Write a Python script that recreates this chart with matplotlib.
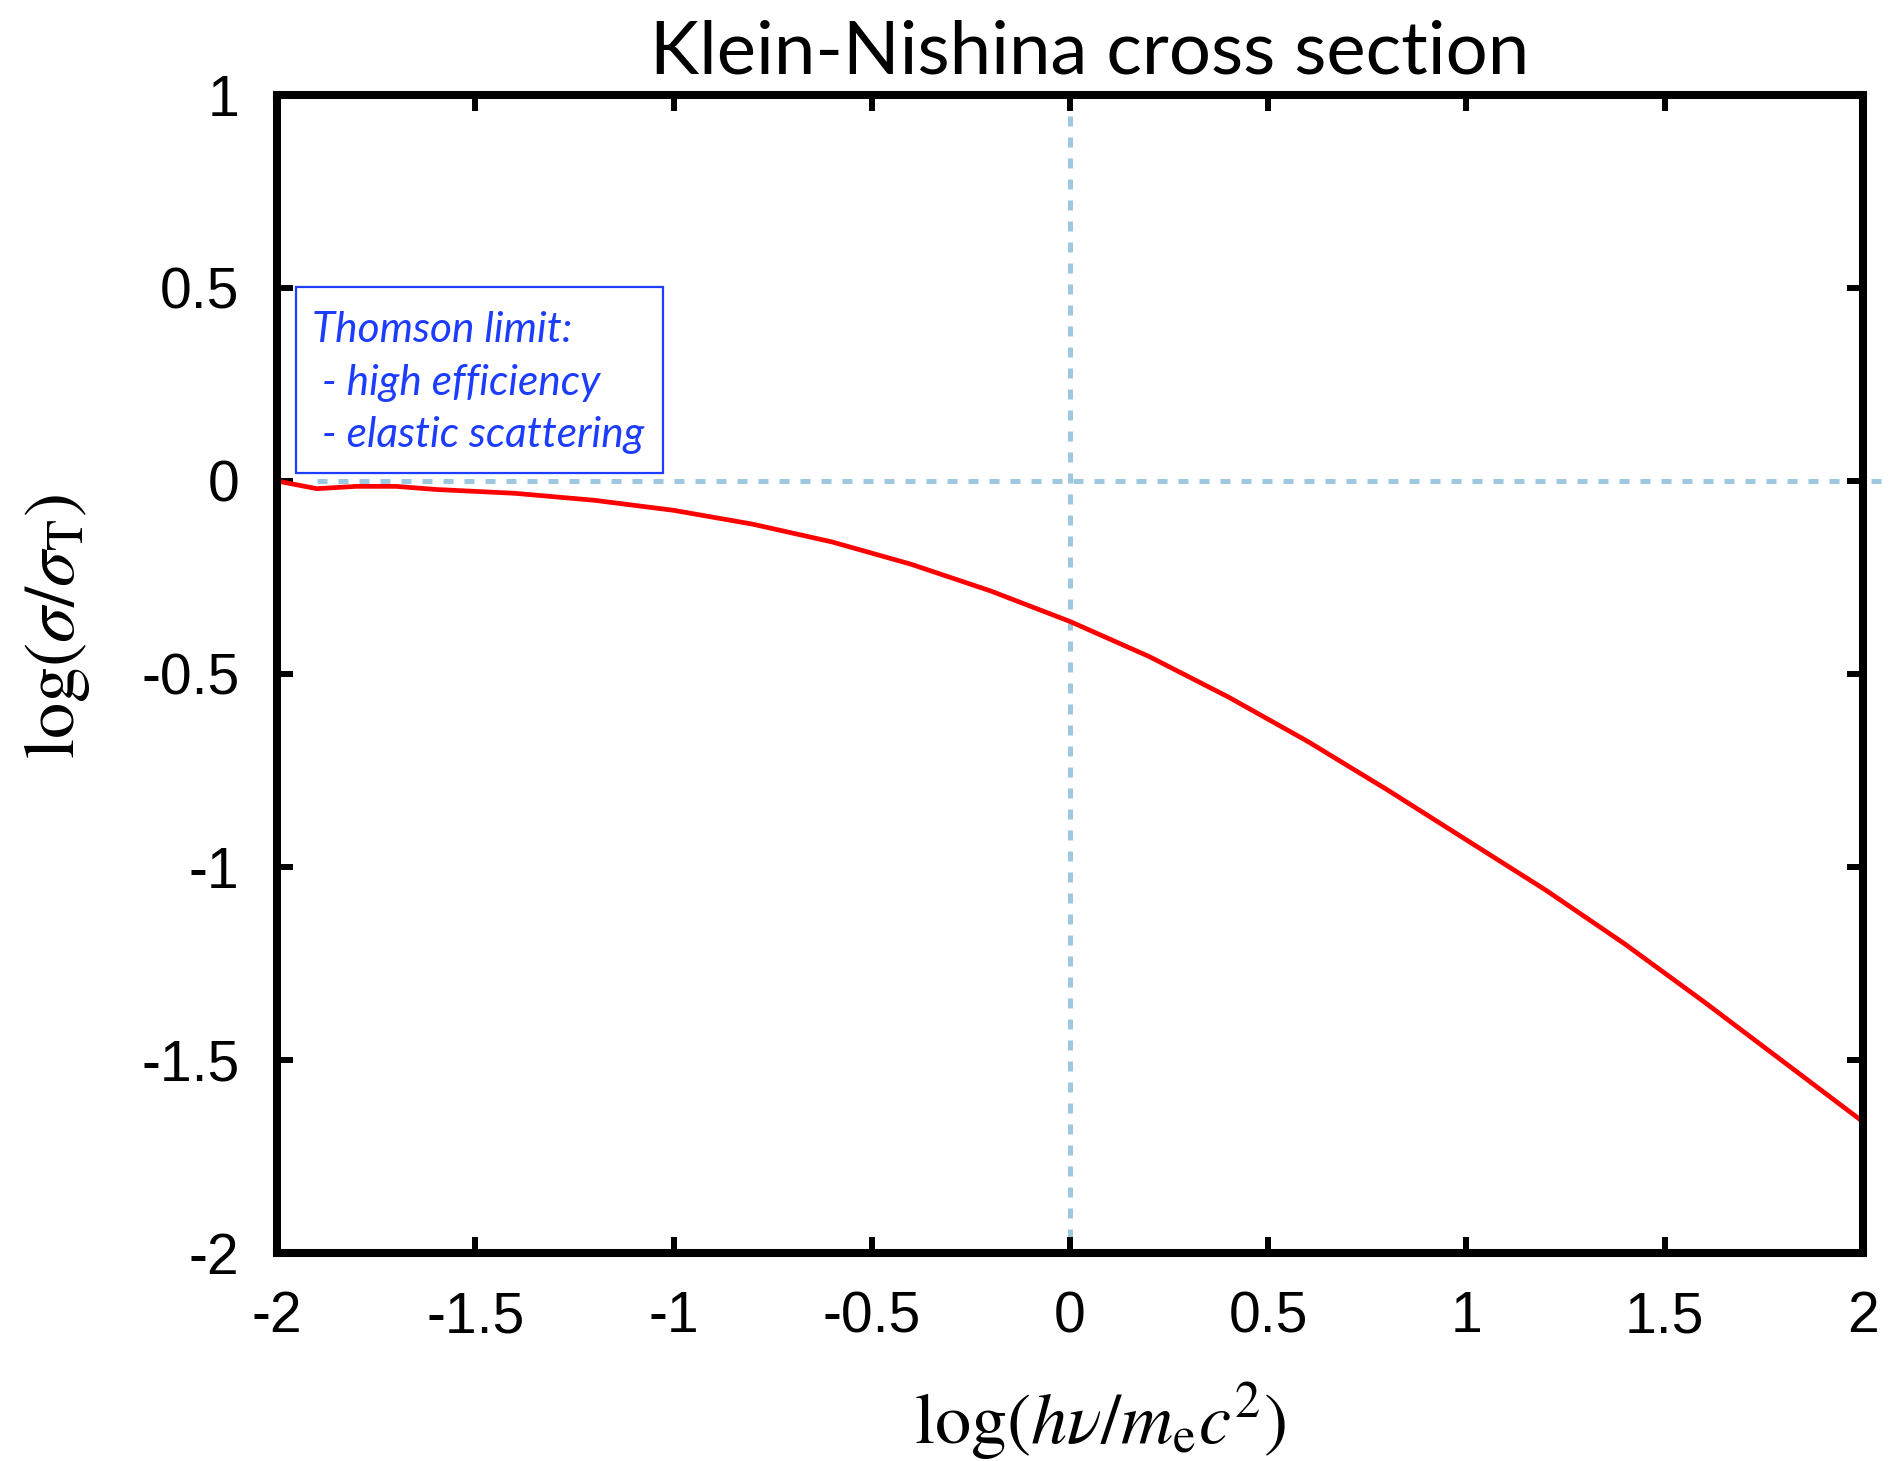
import matplotlib
matplotlib.use('Agg')
import matplotlib.pyplot as plt
from matplotlib.patches import Rectangle

# Curva Klein-Nishina
log_x = [-2.0, -1.9, -1.8, -1.7, -1.6, -1.4, -1.2, -1.0, -0.8, -0.6, -0.4, -0.2,
         0.0, 0.2, 0.4, 0.6, 0.8, 1.0, 1.2, 1.4, 1.6, 1.8, 2.0]
log_sigma = [0.0, -0.02, -0.014, -0.014, -0.022, -0.032, -0.050, -0.076, -0.112,
             -0.158, -0.216, -0.285, -0.364, -0.455, -0.560, -0.675, -0.800,
             -0.930, -1.060, -1.200, -1.350, -1.505, -1.660]

x_ticks = [-2, -1.5, -1, -0.5, 0, 0.5, 1, 1.5, 2]
x_tick_labels = ['-2', '-1.5', '-1', '-0.5', '0', '0.5', '1', '1.5', '2']
y_ticks = [1, 0.5, 0, -0.5, -1, -1.5, -2]
y_tick_labels = ['1', '0.5', '0', '-0.5', '-1', '-1.5', '-2']

note_lines = ['Thomson limit:', ' - high efficiency', ' - elastic scattering']

plt.rcParams['mathtext.fontset'] = 'stix'

fig = plt.figure(figsize=(19, 14.61), dpi=100)
ax = fig.add_axes([0.1458, 0.1424, 0.8347, 0.7926])

guide = '#9dc8e0'
blue = '#1c3cff'

# lineas guia punteadas
ax.plot([-1.9, 2.045], [0, 0], color=guide, lw=3.6, dashes=(2.0, 2.2),
        clip_on=False, zorder=1)
ax.plot([0, 0], [1, -2], color=guide, lw=3.6, dashes=(2.0, 2.2), zorder=1)

ax.plot(log_x, log_sigma, color='#ff0000', lw=3.4, zorder=3)

ax.set_xlim(-2, 2)
ax.set_ylim(-2, 1)
ax.set_xticks(x_ticks)
ax.set_xticklabels(x_tick_labels)
ax.set_yticks(y_ticks)
ax.set_yticklabels(y_tick_labels)

for s in ax.spines.values():
    s.set_linewidth(5.8)
    s.set_zorder(5)
ax.tick_params(direction='in', length=11.5, width=4.3, top=True, right=True,
               labelsize=41)
ax.tick_params(axis='x', pad=27)
ax.tick_params(axis='y', pad=27)
for lab in ax.get_xticklabels() + ax.get_yticklabels():
    lab.set_family('Liberation Sans')

# etiquetas de los ejes
fig.text(0.579, 0.027, r'$\log(h\nu/m_{\rm e}c^2)$', fontsize=52,
         ha='center', va='center')
fig.text(0.03, 0.571, r'$\log(\sigma/\sigma_{\rm T})$', fontsize=52,
         ha='center', va='center', rotation=90)

fig.text(0.5737, 0.95, 'Klein-Nishina cross section', ha='center', va='baseline',
         fontsize=53.5, family='Lato')

# recuadro del limite de Thomson
ax.add_patch(Rectangle((-1.952, 0.021), 0.925, 0.482, fill=False,
                       edgecolor=blue, lw=1.6, zorder=4))
for yy, txt in zip([0.360, 0.223, 0.088], note_lines):
    ax.text(-1.912, yy, txt, color=blue, fontsize=30.5, style='italic',
            family='Lato', va='baseline', zorder=4)

fig.savefig('out.png', dpi=100)
